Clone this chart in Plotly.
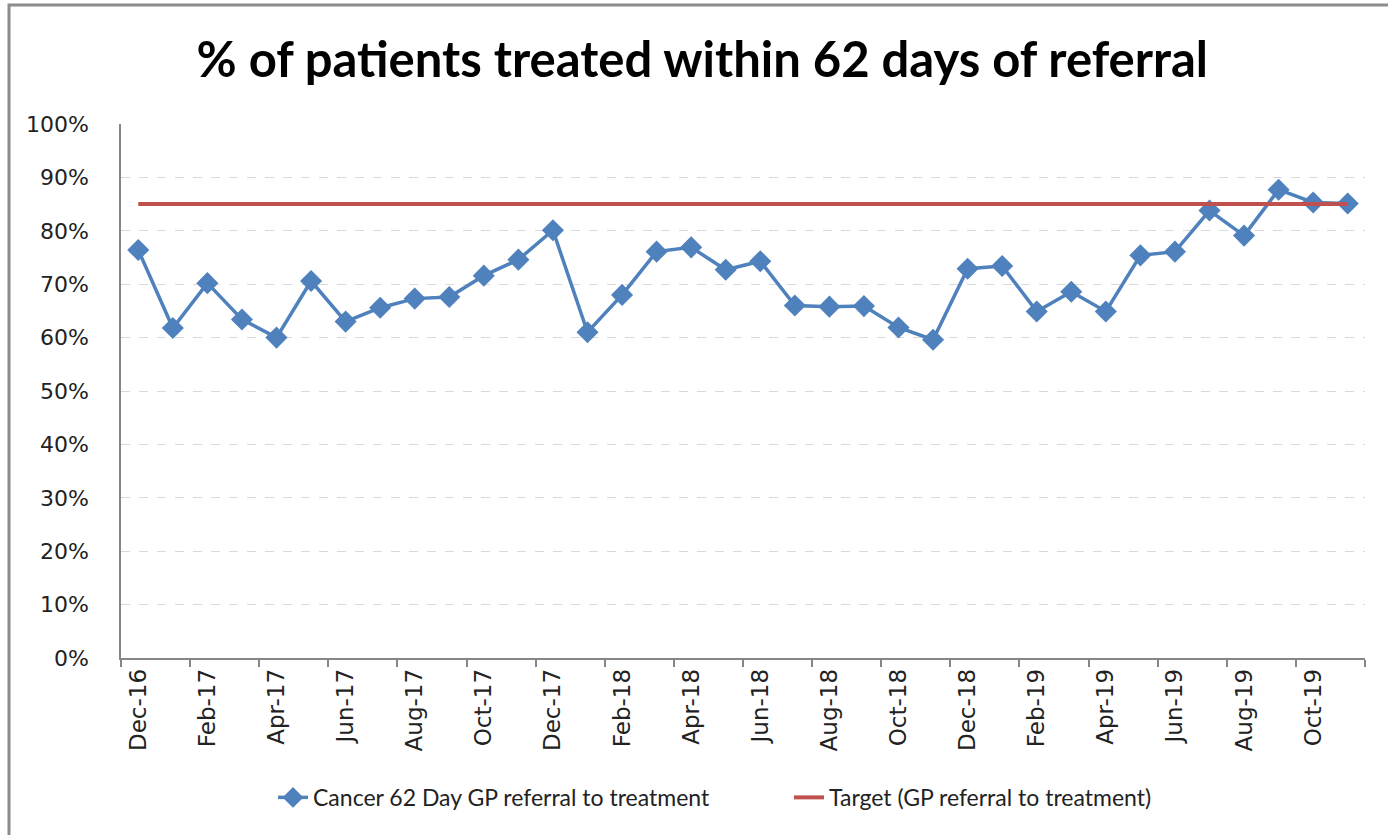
import plotly.graph_objects as go

months = ["Dec-16", "Jan-17", "Feb-17", "Mar-17", "Apr-17", "May-17", "Jun-17", "Jul-17",
          "Aug-17", "Sep-17", "Oct-17", "Nov-17", "Dec-17", "Jan-18", "Feb-18", "Mar-18",
          "Apr-18", "May-18", "Jun-18", "Jul-18", "Aug-18", "Sep-18", "Oct-18", "Nov-18",
          "Dec-18", "Jan-19", "Feb-19", "Mar-19", "Apr-19", "May-19", "Jun-19", "Jul-19",
          "Aug-19", "Sep-19", "Oct-19", "Nov-19"]
cancer_62 = [0.764, 0.618, 0.702, 0.634, 0.600, 0.706, 0.630, 0.656, 0.673, 0.676,
             0.716, 0.746, 0.801, 0.610, 0.680, 0.761, 0.769, 0.727, 0.743, 0.660,
             0.658, 0.659, 0.619, 0.596, 0.729, 0.734, 0.649, 0.686, 0.649, 0.754,
             0.761, 0.838, 0.791, 0.877, 0.853, 0.851]
target = [0.85] * len(months)

idx = list(range(len(months)))

fig = go.Figure()
fig.add_trace(go.Scatter(
    x=idx, y=cancer_62, mode="lines+markers",
    name="Cancer 62 Day GP referral to treatment",
    line=dict(color="#4F81BD", width=3.5),
    marker=dict(symbol="diamond", size=17, color="#4F81BD"),
))
fig.add_trace(go.Scatter(
    x=idx, y=target, mode="lines",
    name="Target (GP referral to treatment)",
    line=dict(color="#C0504D", width=4),
))

fig.update_layout(
    width=1388, height=835,
    paper_bgcolor="white", plot_bgcolor="white",
    margin=dict(l=121, r=23, t=124, b=177),
    title=dict(text="<b>% of patients treated within 62 days of referral</b>",
               font=dict(family="Lato", size=49, color="black"),
               x=0.506, xref="container", xanchor="center",
               y=0.928, yref="container", yanchor="middle"),
    showlegend=True,
    legend=dict(orientation="h", xref="container", yref="container",
                x=273 / 1388, xanchor="left", y=0.045, yanchor="middle",
                font=dict(family="Lato", size=23, color="#222"),
                entrywidth=471, entrywidthmode="pixels",
                tracegroupgap=0),
    font=dict(family="DejaVu Sans", color="#222"),
)

fig.update_xaxes(
    range=[-0.5, len(months) - 0.5],
    tickmode="array", tickvals=idx[::2], ticktext=months[::2],
    tickangle=-90, tickfont=dict(family="DejaVu Sans", size=23, color="#222"),
    ticks="", showgrid=False, zeroline=False,
    showline=True, linecolor="#868686", linewidth=1.5,
    minor=dict(tick0=-0.5, dtick=2, ticks="outside", ticklen=7,
               tickcolor="#868686", tickwidth=1.5, showgrid=False),
)
fig.update_yaxes(
    range=[0, 1.0], dtick=0.1, tickformat=".0%",
    tickfont=dict(family="DejaVu Sans", size=22, color="#222"),
    showgrid=True, gridcolor="#D9D9D9", griddash="dash", gridwidth=1.2,
    zeroline=False, showline=True, linecolor="#868686", linewidth=1.5,
    ticks="", ticklabelstandoff=26,
)

# chart-area border (Excel style)
fig.add_shape(type="rect", xref="paper", yref="paper",
              x0=(9 - 121) / 1244, x1=(1400 - 121) / 1244,
              y0=(658 - 850) / 534, y1=(658 - 5) / 534,
              line=dict(color="#8C8C8C", width=3), layer="below")

fig.write_html("out.html", config={"displayModeBar": False},
               post_script="document.body.style.margin='0px';document.body.style.overflow='hidden';")
